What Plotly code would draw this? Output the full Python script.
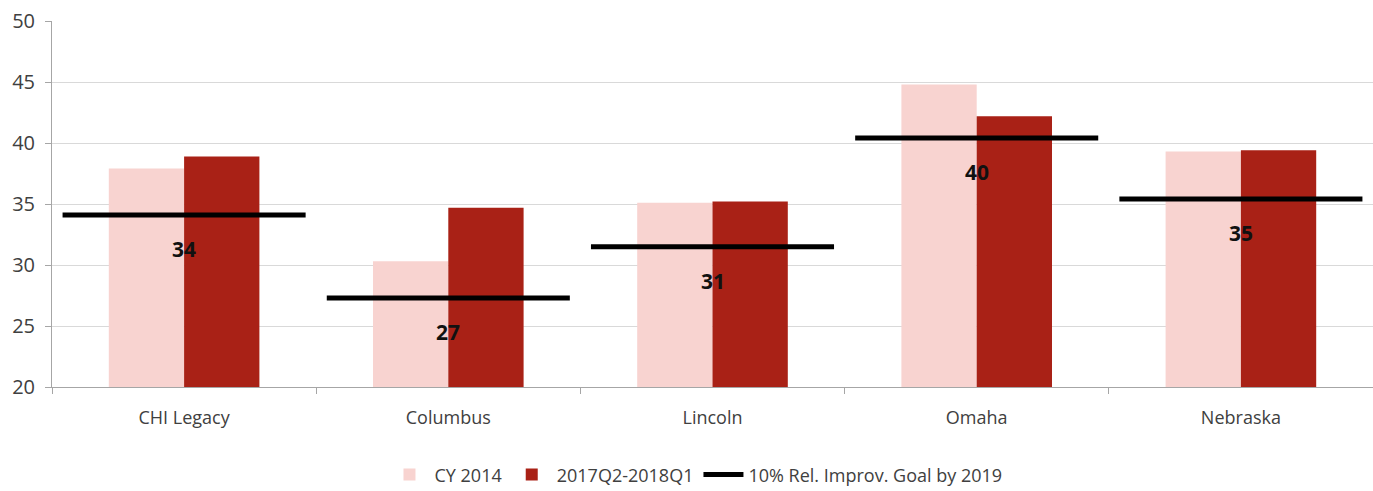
import plotly.graph_objects as go

categories = ["CHI Legacy", "Columbus", "Lincoln", "Omaha", "Nebraska"]
cy2014 = [37.9, 30.3, 35.1, 44.8, 39.3]
recent = [38.9, 34.7, 35.2, 42.2, 39.4]
goal = [34.1, 27.3, 31.5, 40.4, 35.4]
goal_labels = ["34", "27", "31", "40", "35"]

x = list(range(len(categories)))
half = 0.46

fig = go.Figure()
fig.add_trace(go.Bar(x=x, y=[v - 20 for v in cy2014], base=20, name="CY 2014",
                     marker=dict(color="#f8d3d0", line=dict(width=0))))
fig.add_trace(go.Bar(x=x, y=[v - 20 for v in recent], base=20, name="2017Q2-2018Q1",
                     marker=dict(color="#a92116", line=dict(width=0))))

gx, gy = [], []
for i, g in zip(x, goal):
    gx += [i - half, i + half, None]
    gy += [g, g, None]
fig.add_trace(go.Scatter(x=gx, y=gy, mode="lines", name="10% Rel. Improv. Goal by 2019",
                         line=dict(color="black", width=5)))

for i, g, t in zip(x, goal, goal_labels):
    fig.add_annotation(x=i, y=g, text="<b>" + t + "</b>", showarrow=False,
                       yshift=-34, font=dict(size=21, color="#111111", family="Open Sans"))

fig.update_layout(
    width=1373, height=491,
    margin=dict(l=52, r=0, t=21, b=104, autoexpand=False),
    paper_bgcolor="white", plot_bgcolor="white",
    barmode="group", bargap=0.43, bargroupgap=0,
    font=dict(family="Open Sans", size=17, color="#404040"),
    legend=dict(orientation="h", x=0.4875, xref="paper", xanchor="center",
                y=-0.24, yref="paper", yanchor="middle",
                font=dict(size=18, color="#404040"), traceorder="normal",
                itemwidth=40, borderwidth=0),
    showlegend=True,
)
fig.update_xaxes(range=[-0.5, len(categories) - 0.5], tickvals=x, ticktext=categories,
                 ticks="", showgrid=False, showline=True, linecolor="#a6a6a6", linewidth=1,
                 zeroline=False, fixedrange=True, ticklabelstandoff=14,
                 minor=dict(tickvals=[i - 0.5 for i in range(len(categories) + 1)],
                            ticks="outside", ticklen=6, tickcolor="#a6a6a6", showgrid=False),
                 tickfont=dict(size=18, color="#404040"))
fig.update_yaxes(range=[20, 50], dtick=5, showgrid=True, gridcolor="#d9d9d9",
                 showline=True, linecolor="#a6a6a6", linewidth=1, ticks="outside",
                 ticklen=6, tickcolor="#a6a6a6", zeroline=False, ticklabelstandoff=6,
                 fixedrange=True, tickfont=dict(size=20, color="#404040"))

fig.write_html("out.html", config={"displayModeBar": False},
               post_script="document.body.style.margin='0';")
